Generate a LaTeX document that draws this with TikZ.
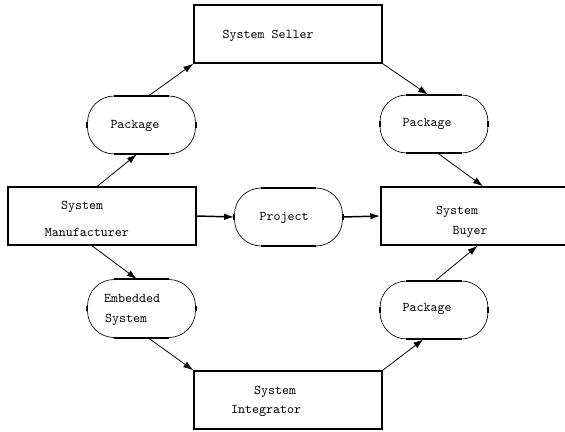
\documentclass[tikz,border=0pt]{standalone}
\usetikzlibrary{arrows.meta, positioning, calc}

\begin{document}
\begin{tikzpicture}[x=0.75pt, y=-0.75pt,
  box/.style={draw, line width=1.1pt, minimum width=141pt, minimum height=43.5pt, inner sep=0pt},
  pill/.style={draw, line width=0.5pt, rounded corners=20pt, minimum width=81pt, minimum height=43.5pt, inner sep=0pt},
  txt/.style={font=\ttfamily, inner sep=0pt},
  flow/.style={-{Latex[length=7.5pt,width=5pt]}, line width=0.6pt}]

\clip (0,0) rectangle (565,432);

% boxes
\node[box] (seller) at (288,34) {};
\node[txt] (seller-t) at (268,36) {System Seller};
\node[box] (maker) at (102,216) {};
\node[txt] (maker-t1) at (82,207) {System};
\node[txt] (maker-t2) at (87,232) {Manufacturer};
\node[box] (buyer) at (475,216) {};
\node[txt] (buyer-t1) at (457,212) {System};
\node[txt] (buyer-t2) at (470,232) {Buyer};
\node[box] (integ) at (288,400) {};
\node[txt] (integ-t1) at (275,392) {System};
\node[txt] (integ-t2) at (266,411) {Integrator};

% pills
\node[pill] (pkgA) at (141.5,125) {};
\node[txt] (pkgA-t) at (135,126) {Package};
\node[pill] (pkgB) at (434,124) {};
\node[txt] (pkgB-t) at (427,124) {Package};
\node[pill] (project) at (288.5,217) {};
\node[txt] (project-t) at (284,218) {Project};
\node[pill] (embed) at (141.5,308.5) {};
\node[txt] (embed-t1) at (132,298) {Embedded};
\node[txt] (embed-t2) at (126,320) {System};
\node[pill] (pkgC) at (434,310) {};
\node[txt] (pkgC-t) at (427,309) {Package};

% heavy straight parts of the pills
\foreach \p in {pkgA,pkgB,project,embed,pkgC} {
  \draw[line width=1.5pt] ([xshift=20pt]\p.north west) -- ([xshift=-20pt]\p.north east);
  \draw[line width=1.5pt] ([xshift=20pt]\p.south west) -- ([xshift=-20pt]\p.south east);
  \draw[line width=1.5pt] ([yshift=2pt]\p.west) -- ([yshift=-2pt]\p.west);
  \draw[line width=1.5pt] ([yshift=2pt]\p.east) -- ([yshift=-2pt]\p.east);
}

% arrows
\draw[flow] ([xshift=-3.5pt]maker.north) -- ([xshift=-3.5pt]pkgA.south);
\draw[flow] ([xshift=5.5pt]pkgA.north) -- (seller.south west);
\draw[flow] (seller.south east) -- ([xshift=-4.5pt]pkgB.north);
\draw[flow] ([xshift=3pt]pkgB.south) -- ([xshift=6pt]buyer.north);
\draw[flow, line width=1.1pt] (maker.east) -- (project.west);
\draw[flow, line width=1.1pt] (project.east) -- (buyer.west);
\draw[flow] ([xshift=-7.5pt]maker.south) -- ([xshift=-3.5pt]embed.north);
\draw[flow] ([xshift=5pt]embed.south) -- (integ.north west);
\draw[flow] (integ.north east) -- ([xshift=-8pt]pkgC.south);
\draw[flow] ([xshift=1pt]pkgC.north) -- ([xshift=2pt]buyer.south);
\end{tikzpicture}
\end{document}
